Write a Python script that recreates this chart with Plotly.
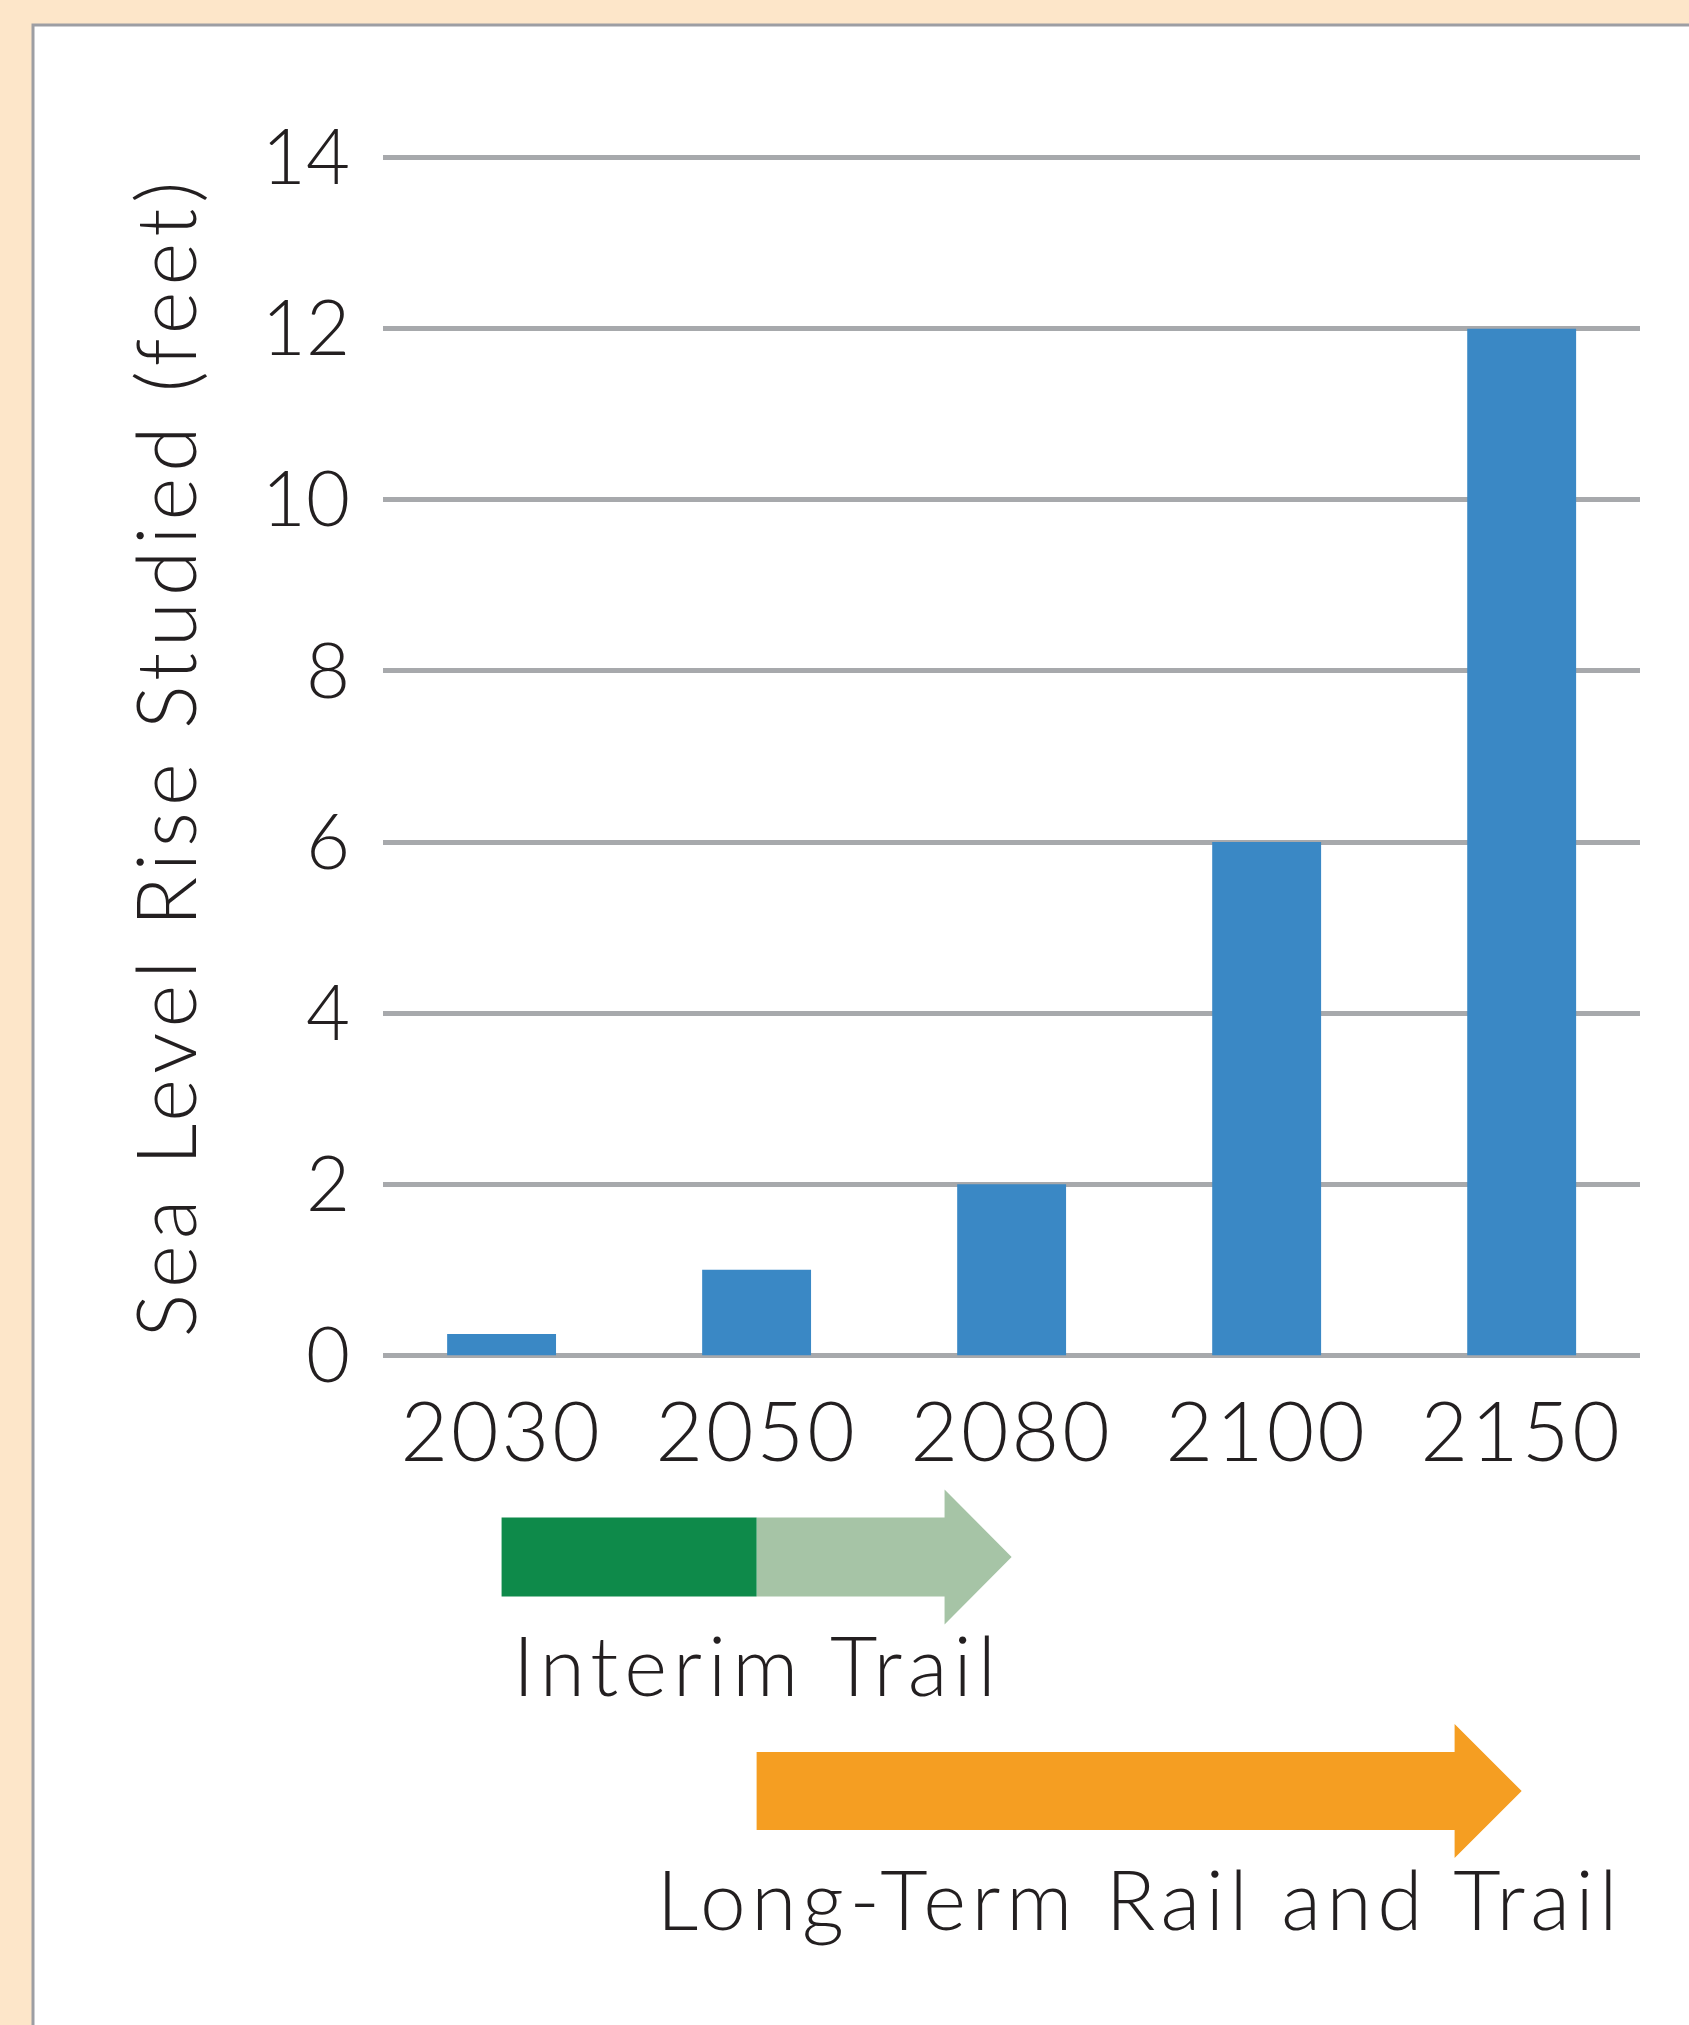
import plotly.graph_objects as go

# ---- data ----
years = ["2030", "2050", "2080", "2100", "2150"]
sea_level_rise_ft = [0.25, 1, 2, 6, 12]
y_ticks = [0, 2, 4, 6, 8, 10, 12, 14]

interim_label = "Interim Trail"
interim_solid = (0, 1)      # dark green: 2030 -> 2050
interim_faded = (1, 2)      # light green arrow: 2050 -> 2080
longterm_label = "Long-Term Rail and Trail"
longterm_span = (1, 4)      # orange arrow: 2050 -> 2150

W, H = 1689, 2025
L, R, T, B = 383, 49, 156, 668
PW, PH = W - L - R, H - T - B
FONT = "Lato"
TXT = "#231F20"
BAR = "#3A88C5"
GRID = "#A7A9AC"
DARK_GREEN = "#0E8A4A"
LIGHT_GREEN = "#A6C4A6"
ORANGE = "#F59E22"


def px_x(px):
    return (px - L) / PW


def px_y(py):
    return (H - B - py) / PH


x_idx = list(range(len(years)))

fig = go.Figure()
fig.add_trace(go.Bar(
    x=x_idx, y=sea_level_rise_ft, marker_color=BAR, marker_line_width=0,
    width=0.427, showlegend=False, hoverinfo="skip"))

shapes = []
# white panel with grey border
shapes.append(dict(type="rect", xref="paper", yref="paper",
                   x0=px_x(33), x1=px_x(W + 20), y0=px_y(H + 20), y1=px_y(25),
                   fillcolor="white", line=dict(color="#9D9EA3", width=3),
                   layer="below"))

HEAD = 0.263  # arrow head length in category units


def arrow_path(x0, x1, yc, shaft_h, head_h):
    xs = x1 - HEAD
    pts = [(x0, px_y(yc - shaft_h)), (xs, px_y(yc - shaft_h)), (xs, px_y(yc - head_h)),
           (x1, px_y(yc)), (xs, px_y(yc + head_h)), (xs, px_y(yc + shaft_h)),
           (x0, px_y(yc + shaft_h))]
    return "M " + " L ".join(f"{a:.4f},{b:.4f}" for a, b in pts) + " Z"


g_y = 1557
shapes.append(dict(type="path", xref="x", yref="paper",
                   path=arrow_path(interim_faded[0], interim_faded[1], g_y, 39.5, 67.5),
                   fillcolor=LIGHT_GREEN, line=dict(width=0)))
shapes.append(dict(type="rect", xref="x", yref="paper",
                   x0=interim_solid[0], x1=interim_solid[1],
                   y0=px_y(g_y + 39.5), y1=px_y(g_y - 39.5),
                   fillcolor=DARK_GREEN, line=dict(width=0)))
o_y = 1791
shapes.append(dict(type="path", xref="x", yref="paper",
                   path=arrow_path(longterm_span[0], longterm_span[1], o_y, 39, 67),
                   fillcolor=ORANGE, line=dict(width=0)))

annotations = [
    dict(text=interim_label, xref="paper", yref="paper",
         x=px_x(757), y=px_y(1664), xanchor="center", yanchor="middle", showarrow=False,
         font=dict(family=FONT, size=82, color=TXT, weight=300)),
    dict(text=longterm_label, xref="paper", yref="paper",
         x=px_x(1140), y=px_y(1898), xanchor="center", yanchor="middle", showarrow=False,
         font=dict(family=FONT, size=82, color=TXT, weight=300)),
]

fig.update_layout(
    width=W, height=H,
    margin=dict(l=L, r=R, t=T, b=B, autoexpand=False),
    paper_bgcolor="#FDE6C9",
    plot_bgcolor="rgba(0,0,0,0)",
    shapes=shapes,
    annotations=annotations,
    font=dict(family=FONT, color=TXT, weight=300),
    xaxis=dict(range=[-0.465, 4.464], tickvals=x_idx, ticktext=years,
               showgrid=False, zeroline=False, showline=False, ticks="",
               tickfont=dict(family=FONT, size=82, color=TXT, weight=300),
               ticklabelstandoff=21, fixedrange=True),
    yaxis=dict(range=[-0.02, 14.02], tickvals=y_ticks,
               showgrid=True, gridcolor=GRID, gridwidth=5,
               zeroline=True, zerolinecolor=GRID, zerolinewidth=5,
               showline=False, ticks="",
               tickfont=dict(family=FONT, size=76, color=TXT, weight=300),
               ticklabelstandoff=32,
               title=dict(text="Sea Level Rise Studied (feet)", standoff=38,
                          font=dict(family=FONT, size=82, color=TXT, weight=300)),
               fixedrange=True),
)

post = """
document.body.style.margin = '0';
document.body.style.padding = '0';
document.querySelectorAll('.g-ytitle text').forEach(function (t) {
  t.style.letterSpacing = '6px';
});
document.querySelectorAll('.annotation-text').forEach(function (t, i) {
  t.style.letterSpacing = (i === 0 ? '6px' : '5.6px');
});
document.querySelectorAll('.xtick text').forEach(function (t) {
  t.style.letterSpacing = '3px';
});
"""

fig.write_html("out.html", post_script=post, config={"displayModeBar": False})
